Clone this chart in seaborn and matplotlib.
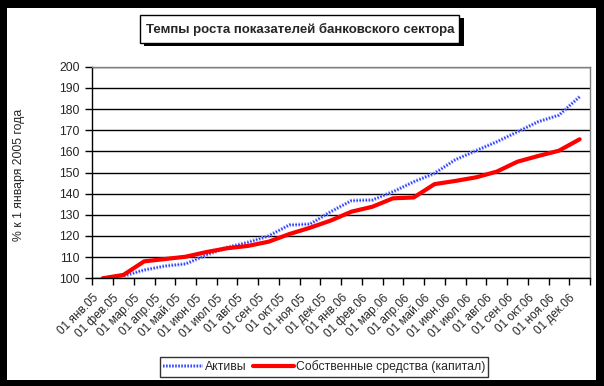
import numpy as np
import pandas as pd
import matplotlib
matplotlib.use('Agg')
import matplotlib.pyplot as plt
import matplotlib.patheffects as pe
from matplotlib.patches import Rectangle
from matplotlib.transforms import ScaledTranslation
import seaborn as sns

# данные (месячные точки, % к 1 января 2005)
meses = ['01 янв.05', '01 фев.05', '01 мар.05', '01 апр.05', '01 май.05', '01 июн.05',
         '01 июл.05', '01 авг.05', '01 сен.05', '01 окт.05', '01 ноя.05', '01 дек.05',
         '01 янв.06', '01 фев.06', '01 мар.06', '01 апр.06', '01 май.06', '01 июн.06',
         '01 июл.06', '01 авг.06', '01 сен.06', '01 окт.06', '01 ноя.06', '01 дек.06']
aktivy = [100, 101.1, 103.9, 105.8, 106.8, 111.0, 114.6, 117.0, 120.0, 125.2, 125.6, 131.5,
          136.7, 137.0, 140.9, 145.6, 149.6, 156.0, 160.3, 164.5, 169.2, 174.0, 177.1, 185.8]
kapital = [100, 101.6, 108.0, 109.1, 110.2, 112.4, 114.2, 115.3, 117.3, 120.9, 123.9, 127.3,
           131.5, 133.8, 137.8, 138.2, 144.5, 146.0, 147.7, 150.4, 155.1, 157.8, 160.3, 165.7]
nome_aktivy = 'Активы'
nome_kapital = 'Собственные средства (капитал)'
titulo = 'Темпы роста показателей банковского сектора'
rotulo_y = '% к 1 января 2005 года'

df = pd.DataFrame({'idx': np.arange(len(meses)), 'aktivy': aktivy, 'kapital': kapital})

sns.set_style('white')
plt.rcParams['font.family'] = ['Liberation Sans', 'DejaVu Sans']

W, H = 604, 386
fig = plt.figure(figsize=(W / 100, H / 100), dpi=100, facecolor='black')

def px(x, y):
    return x / W, 1 - y / H

# fundo branco com moldura preta
fig.patches.append(Rectangle(px(7, 380), 589 / W, 372 / H, transform=fig.transFigure,
                             facecolor='white', edgecolor='none', zorder=-5))

ax = fig.add_axes([92.3 / W, 1 - 278.3 / H, (590 - 92.3) / W, (278.3 - 66.7) / H])
ax.set_facecolor('white')

sns.lineplot(data=df, x='idx', y='aktivy', ax=ax, color='#2233ff', lw=1.1, label=nome_aktivy,
             linestyle=(0, (1, 1)),
             path_effects=[pe.Stroke(linewidth=2.8, foreground='#8c98ff'), pe.Normal()])
sns.lineplot(data=df, x='idx', y='kapital', ax=ax, color='#ff0000', lw=3, label=nome_kapital)

ax.set_xlim(-0.5, len(meses) - 0.5)
ax.set_ylim(100, 200)
ax.set_yticks(np.arange(100, 201, 10))
ax.yaxis.grid(True, color='black', lw=1)
ax.xaxis.grid(False)
ax.set_axisbelow(True)

ax.set_xticks(np.arange(-0.5, len(meses), 1.0))
ax.set_xticklabels([])
ax.set_xticks(np.arange(len(meses)), labels=meses, minor=True)
ax.tick_params(axis='x', which='major', direction='out', length=5, width=1, color='black', bottom=True)
ax.tick_params(axis='x', which='minor', length=0, pad=13, labelsize=8.5)
ax.tick_params(axis='y', direction='out', length=5, width=1, color='black', left=True, pad=4,
               labelsize=8.8)

offset = ScaledTranslation(-6 / 100, 0, fig.dpi_scale_trans)
for lbl in ax.get_xticklabels(minor=True):
    lbl.set_rotation(45)
    lbl.set_ha('right')
    lbl.set_va('center')
    lbl.set_rotation_mode('anchor')
    lbl.set_transform(lbl.get_transform() + offset)

for s in ['left', 'bottom']:
    ax.spines[s].set_color('black')
    ax.spines[s].set_linewidth(1)
for s in ['top', 'right']:
    ax.spines[s].set_color('#808080')
    ax.spines[s].set_linewidth(1)

ax.set_xlabel('')
ax.set_ylabel('')
fig.text(*px(19, 175), rotulo_y, rotation=90, ha='center', va='center', fontsize=8.8)

# título em caixa com sombra
fig.patches.append(Rectangle(px(144, 46), 320 / W, 28 / H, transform=fig.transFigure,
                             facecolor='black', edgecolor='none', zorder=2))
fig.patches.append(Rectangle(px(140, 43), 319 / W, 28 / H, transform=fig.transFigure,
                             facecolor='white', edgecolor='black', lw=1, zorder=3))
fig.text(*px(300, 29), titulo, ha='center', va='center', fontsize=9.5, fontweight='bold', zorder=4)

leg = ax.legend(loc='center', bbox_to_anchor=px(324, 367), bbox_transform=fig.transFigure,
                ncol=2, frameon=True, fancybox=False, fontsize=8.8, handlelength=3.3,
                handletextpad=0.2, columnspacing=0.5, borderpad=0.25, borderaxespad=0)
leg.get_frame().set_edgecolor('black')
leg.get_frame().set_linewidth(1)

fig.savefig('out.png', dpi=100, facecolor='black')
